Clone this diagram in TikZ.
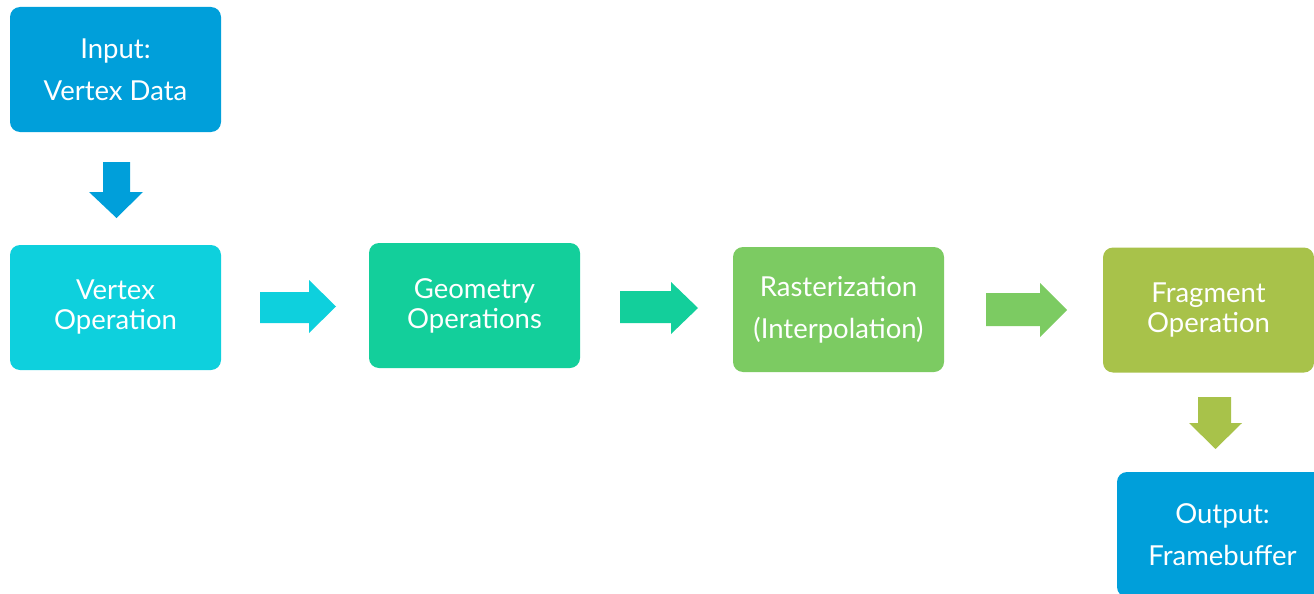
\documentclass[tikz,border=0pt]{standalone}
\usepackage{fontspec}
\setmainfont{Lato}
\definecolor{cblue}{RGB}{0,159,218}
\definecolor{ccyan}{RGB}{14,208,221}
\definecolor{cteal}{RGB}{19,207,155}
\definecolor{cgreen}{RGB}{124,203,98}
\definecolor{colive}{RGB}{168,194,74}
\begin{document}
\begin{tikzpicture}[x=1pt,y=-1pt,
  stage/.style={rounded corners=10pt, minimum width=211pt, minimum height=125pt,
    inner sep=0pt, align=center, text=white},
  wide/.style={font=\fontsize{27.5}{42}\selectfont},
  tight/.style={font=\fontsize{27.5}{30}\selectfont}]
\useasboundingbox (0,0) rectangle (1314,594);
\clip (0,0) rectangle (1314,594);
% boxes
\node[stage,wide,fill=cblue]   (in)   at (115.5,69.5)  {Input:\\Vertex Data};
\node[stage,tight,fill=ccyan]  (vop)  at (115.5,307.5) {Vertex\\Operation};
\node[stage,tight,fill=cteal]  (geo)  at (474.5,305.5) {Geometry\\Operations};
\node[stage,wide,fill=cgreen]  (ras)  at (838.5,309.5) {Rasterization\\(Interpolation)};
\node[stage,tight,fill=colive] (frag) at (1208.5,310)  {Fragment\\Operation};
\node[stage,wide,fill=cblue]   (out)  at (1222.5,534.5){Output:\\Framebuffer};
% block arrows
\fill[cblue]  (103,162) -- (130,162) -- (130,192) -- (143,192) -- (116.5,218) -- (89,192) -- (103,192) -- cycle;
\fill[ccyan]  (260,292) -- (309,292) -- (309,280) -- (336,306.5) -- (309,333) -- (309,323) -- (260,323) -- cycle;
\fill[cteal]  (620,291) -- (671,291) -- (671,282) -- (698,308) -- (671,334) -- (671,323) -- (620,323) -- cycle;
\fill[cgreen] (986,293) -- (1040,293) -- (1040,283) -- (1067,310) -- (1040,337) -- (1040,326) -- (986,326) -- cycle;
\fill[colive] (1198,397) -- (1231,397) -- (1231,423) -- (1242,423) -- (1215.5,449) -- (1189,423) -- (1198,423) -- cycle;
\end{tikzpicture}
\end{document}
